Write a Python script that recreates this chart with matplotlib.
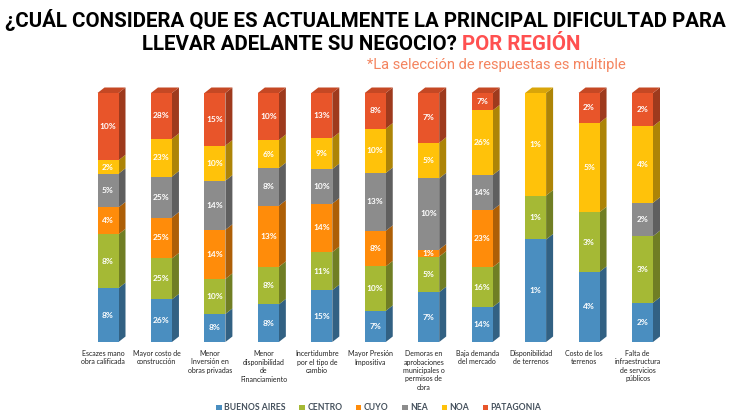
import matplotlib
matplotlib.use("Agg")
import matplotlib.pyplot as plt
from matplotlib.patches import Polygon, Patch
import numpy as np

categories = [
    "Escazes mano\nobra calificada",
    "Mayor costo de\nconstrucción",
    "Menor\nInversión en\nobras privadas",
    "Menor\ndisponibilidad\nde\nFinanciamiento",
    "Incertidumbre\npor el tipo de\ncambio",
    "Mayor Presión\nImpositiva",
    "Demoras en\naprobaciones\nmunicipales o\npermisos de\nobra",
    "Baja demanda\ndel mercado",
    "Disponibilidad\nde terrenos",
    "Costo de los\nterrenos",
    "Falta de\ninfraestructura\nde servicios\npúblicos",
]
series_names = ["BUENOS AIRES", "CENTRO", "CUYO", "NEA", "NOA", "PATAGONIA"]
buenos_aires = [8, 26, 8, 8, 15, 7, 7, 14, 1.4, 4, 2]
centro = [8, 25, 10, 8, 11, 10, 5, 16, 0.6, 3.4, 3.4]
cuyo = [4, 25, 14, 13, 14, 8, 1, 23, 0, 0, 0]
nea = [5, 25, 14, 8, 10, 13, 10, 14, 0, 0, 1.7]
noa = [2, 23, 10, 6, 9, 10, 5, 26, 1.4, 5.1, 3.9]
patagonia = [10, 28, 15, 10, 13, 8, 7, 7, 0, 1.7, 1.7]

colors = ["#4A8EC0", "#A5B935", "#FF8C0A", "#8C8C8C", "#FFC20A", "#E8552A"]

data = np.array([buenos_aires, centro, cuyo, nea, noa, patagonia], dtype=float)
totals = data.sum(axis=0)
shares = data / totals

W, H = 730, 412
fig = plt.figure(figsize=(W / 100, H / 100), dpi=100)
ax = fig.add_axes([0, 0, 1, 1])
x0_px, step_px = 108.0, 53.45
y0_px, top_px = 342.0, 93.0
hpx = y0_px - top_px
ax.set_xlim(-x0_px / step_px, (W - x0_px) / step_px)
ax.set_ylim((y0_px - H) / hpx, y0_px / hpx)
ax.axis("off")

def darker(c, f):
    r, g, b = matplotlib.colors.to_rgb(c)
    return (r * f, g * f, b * f)

bw = 21 / step_px
dx = 7 / step_px
dy = 5.5 / hpx
x = np.arange(len(categories))
bottom = np.zeros(len(categories))
for si in range(len(series_names)):
    h = shares[si]
    ax.bar(x, h, bw, bottom=bottom, color=colors[si], edgecolor="none", zorder=3)
    for i in range(len(categories)):
        if h[i] <= 0:
            continue
        xr = x[i] + bw / 2
        b0, b1 = bottom[i], bottom[i] + h[i]
        ax.add_patch(Polygon([(xr, b0), (xr + dx, b0 + dy), (xr + dx, b1 + dy), (xr, b1)],
                             closed=True, facecolor=darker(colors[si], 0.68),
                             edgecolor="none", zorder=2))
        lab = "%.0f%%" % data[si][i]
        ax.text(x[i], (b0 + b1) / 2, lab, ha="center", va="center", color="white",
                fontsize=6.0, fontweight="bold", family="Lato", zorder=5)
    bottom = bottom + h

# top faces
for i in range(len(categories)):
    top_si = max(s for s in range(len(series_names)) if data[s][i] > 0)
    xl = x[i] - bw / 2
    xr = x[i] + bw / 2
    t = bottom[i]
    ax.add_patch(Polygon([(xl, t), (xl + dx, t + dy), (xr + dx, t + dy), (xr, t)],
                         closed=True, facecolor=darker(colors[top_si], 0.85),
                         edgecolor="none", zorder=2))

# category labels
for i, c in enumerate(categories):
    ax.text(x[i] - 0.09, (y0_px - 350) / hpx, c, ha="center", va="top",
            fontsize=5.0, family="Lato", color="#222222", linespacing=1.25)

# legend
handles = [Patch(facecolor=colors[k], edgecolor="none") for k in range(len(series_names))]
leg = fig.legend(handles, series_names, loc="center", bbox_to_anchor=(379 / W, 1 - 408 / H),
                 ncol=6, frameon=False, handlelength=0.6, handleheight=0.6,
                 handletextpad=0.3, columnspacing=1.6,
                 prop={"family": "Lato", "weight": "bold", "size": 6.2})
for t in leg.get_texts():
    t.set_color("#44505C")

# titles
fig.canvas.draw()
renderer = fig.canvas.get_renderer()
tfam = ["Roboto", "DejaVu Sans"]
t1 = fig.text(365 / W, 1 - 20 / H, "¿CUÁL CONSIDERA QUE ES ACTUALMENTE LA PRINCIPAL DIFICULTAD PARA",
              ha="center", va="center", fontsize=13, fontweight="bold", family=tfam, color="black")
bb = t1.get_window_extent(renderer)
t1.set_fontsize(13 * 720 / bb.width)

part_a = "LLEVAR ADELANTE SU NEGOCIO? "
part_b = "POR REGIÓN"
fs2 = t1.get_fontsize()
ta = fig.text(0, 1 - 45 / H, part_a, ha="left", va="center", fontsize=fs2,
              fontweight="bold", family=tfam, color="black")
tb = fig.text(0, 1 - 45 / H, part_b, ha="left", va="center", fontsize=fs2,
              fontweight="bold", family=tfam, color="#FF5050")
wa = ta.get_window_extent(renderer).width
wb = tb.get_window_extent(renderer).width
start = 361 - (wa + wb) / 2
ta.set_x(start / W)
tb.set_x((start + wa) / W)

t3 = fig.text(496 / W, 1 - 65 / H, "*La selección de respuestas es múltiple", ha="center",
              va="center", fontsize=9, family=tfam, color="#F4845F")
bb3 = t3.get_window_extent(renderer)
t3.set_fontsize(9 * 262 / bb3.width)

fig.savefig("out.png", dpi=100)
